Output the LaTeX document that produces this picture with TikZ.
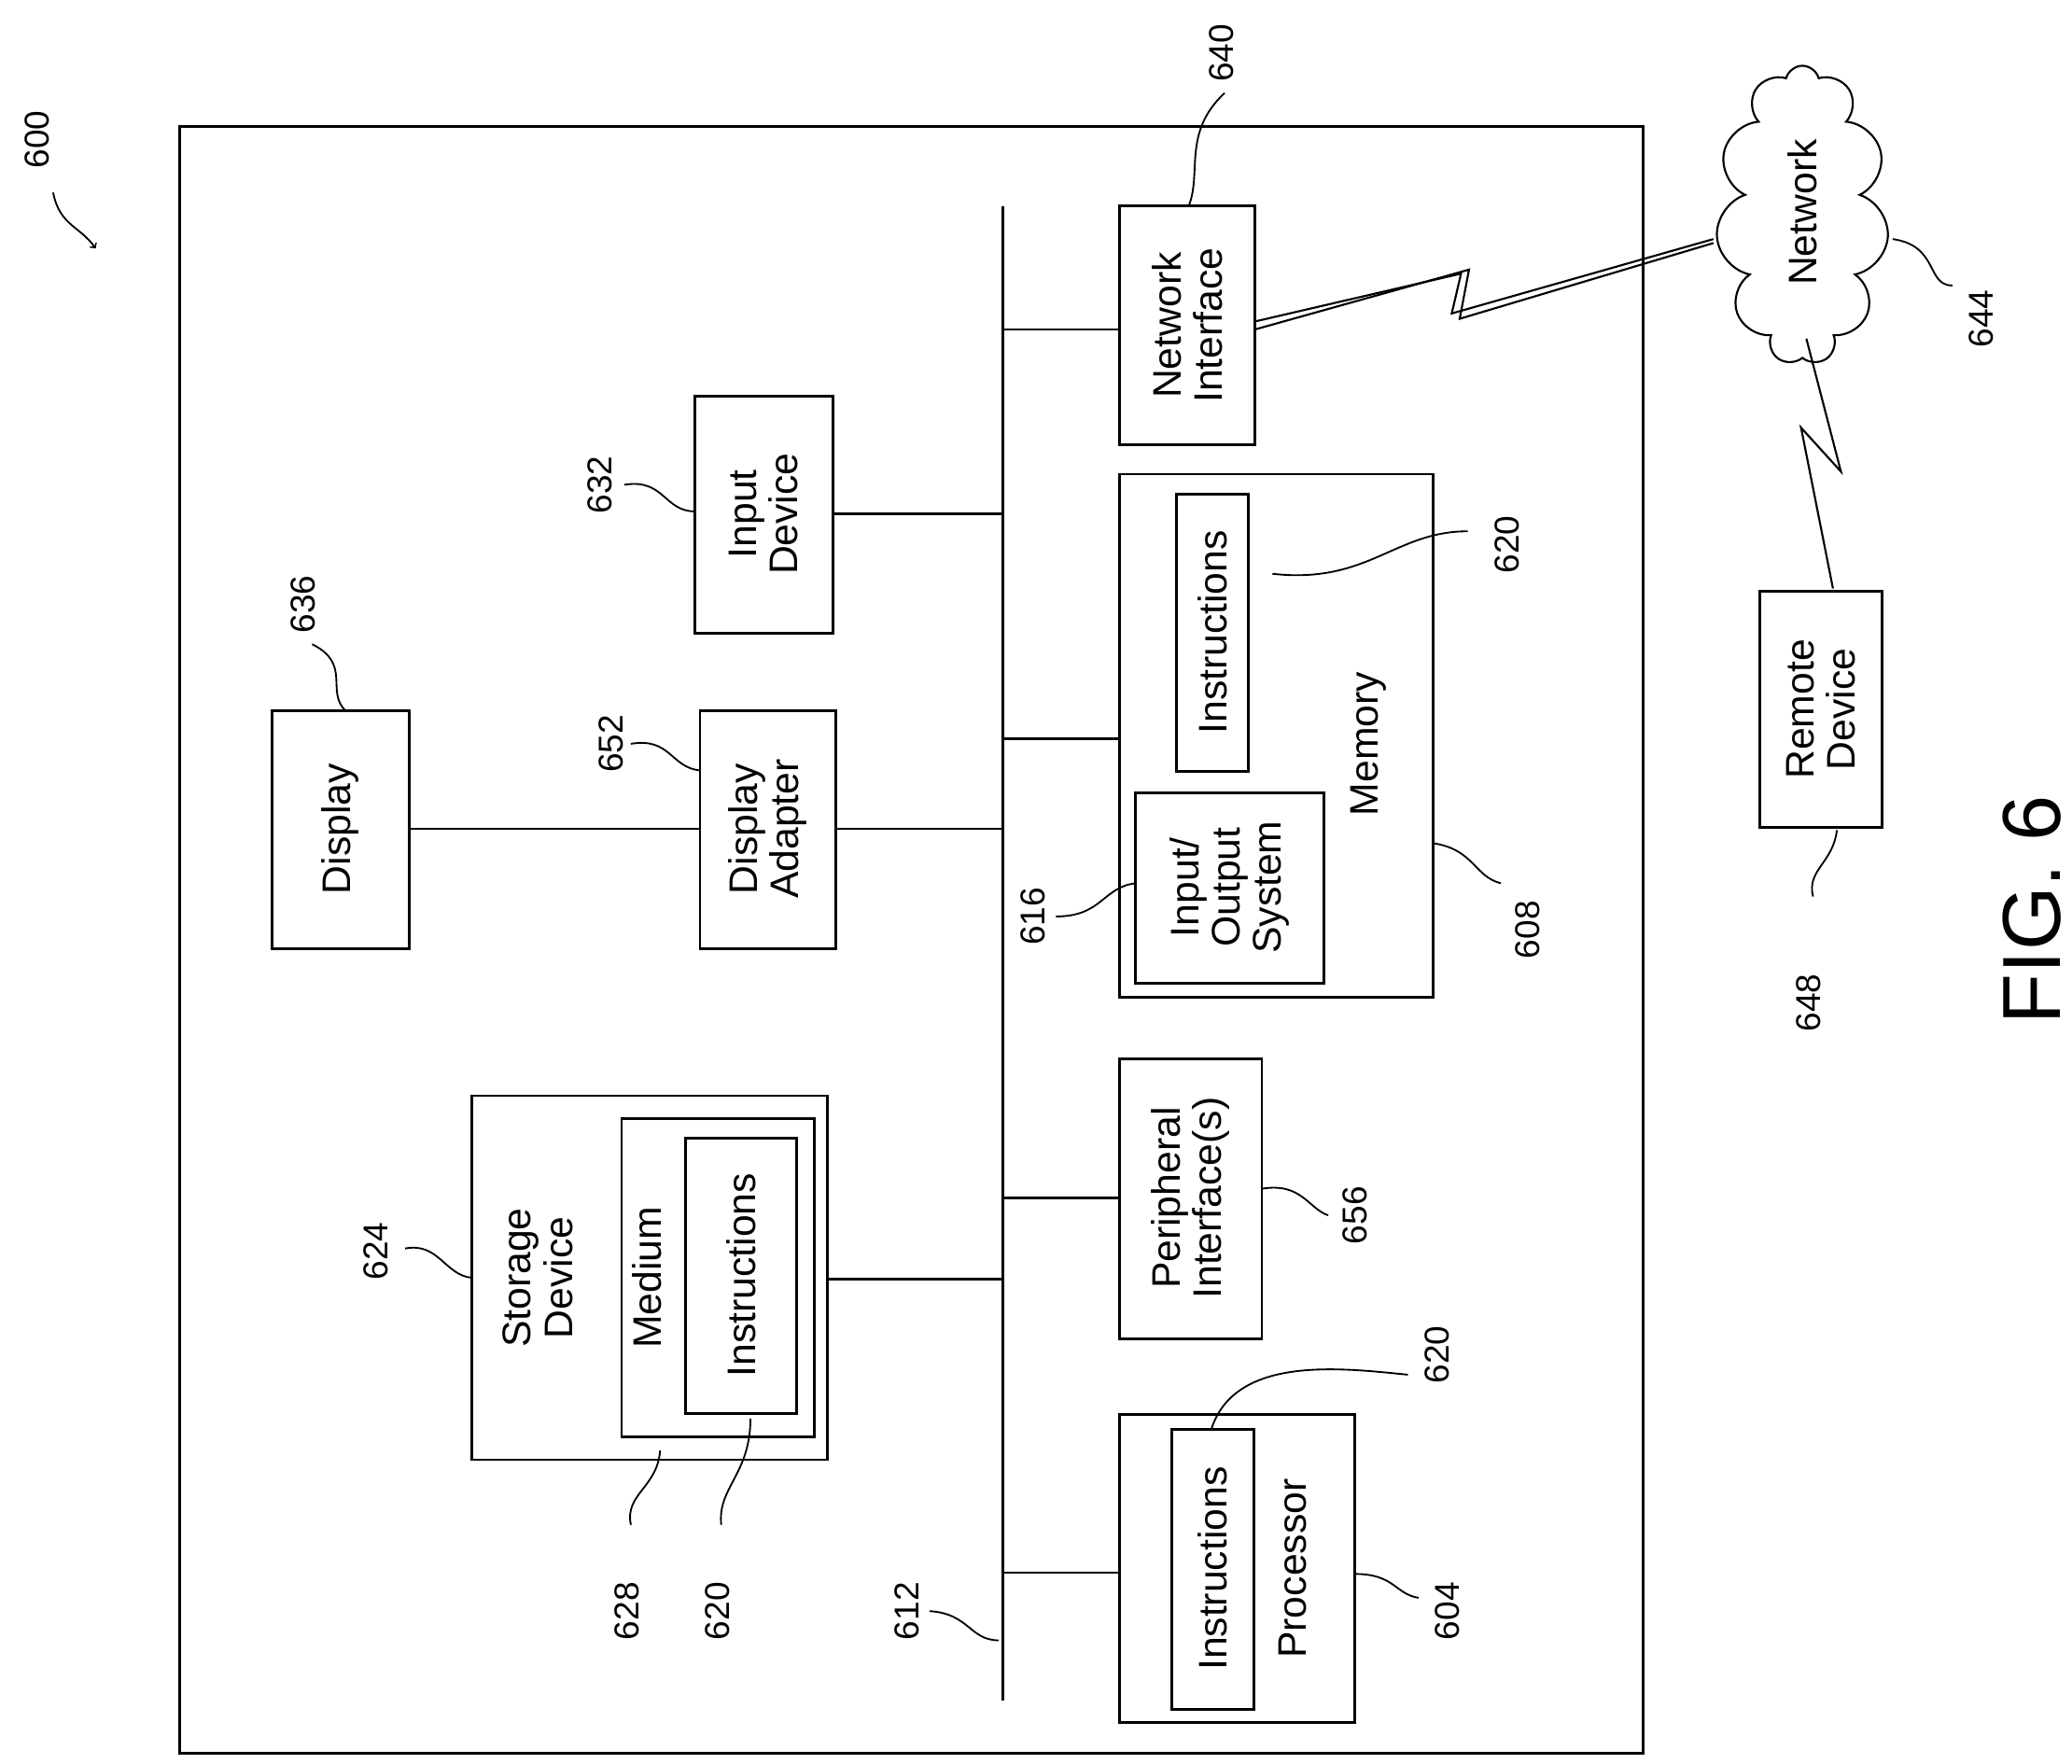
\documentclass[tikz,border=0pt]{standalone}
\usepackage{fontspec}
\setmainfont{Liberation Sans}
\usetikzlibrary{shapes.symbols}
\begin{document}
\begin{tikzpicture}[x=1pt,y=-1pt,line width=2pt,
 txt/.style={rotate=90,align=center,font=\fontsize{30}{31}\selectfont,inner sep=0pt},
 num/.style={rotate=90,font=\fontsize{26}{28}\selectfont,inner sep=1pt},
 lead/.style={line width=1.3pt}]
\useasboundingbox (0,0) rectangle (1560,1328);
\draw (135,95) rectangle (1237,1320);
\coordinate (b1) at (755,155); \coordinate (b2) at (755,1280);
\draw (b1)--(b2);
% boxes
\draw (843,155) rectangle (945,335); \node[txt] (ni) at (894,245) {Network\\Interface};
\draw (523,298) rectangle (627,477); \node[txt] (id) at (575,387) {Input\\Device};
\draw (205,535) rectangle (308,714); \node[txt] (dp) at (256,624) {Display};
\draw (527,535) rectangle (629,714); \node[txt] (da) at (578,624) {Display\\Adapter};
\draw (843,357) rectangle (1079,751); \node[txt] at (1030,560) {Memory};
\draw (886,372) rectangle (940,581); \node[txt] at (913,476) {Instructions};
\draw (855,597) rectangle (997,740); \node[txt] at (926,668) {Input/\\Output\\System};
\draw (843,797) rectangle (950,1008); \node[txt] at (896,902) {Peripheral\\Interface(s)};
\draw (355,825) rectangle (623,1099); \node[txt] at (405,962) {Storage\\Device};
\draw (468,842) rectangle (613,1082); \node[txt] at (487,962) {Medium};
\draw (516,857) rectangle (600,1064); \node[txt] at (558,960) {Instructions};
\draw (843,1065) rectangle (1020,1297); \node[txt] at (973,1181) {Processor};
\draw (882,1076) rectangle (944,1287); \node[txt] at (913,1181) {Instructions};
\draw (1325,445) rectangle (1417,623); \node[txt] at (1371,534) {Remote\\Device};
\node[cloud,draw,cloud puffs=11,aspect=0.55,minimum width=130,minimum height=225,line width=1.5pt] (cl) at (1357,162) {};
\node[txt] at (1357,160) {Network};
% bus links
\draw (755,248)--(843,248);
\draw (627,387)--(755,387);
\draw (308,624)--(527,624); \draw (629,624)--(755,624);
\draw (755,556)--(843,556);
\draw (755,902)--(843,902);
\draw (623,963)--(755,963);
\draw (755,1184)--(843,1184);
% lightning
\draw[line width=1.5pt] (945,248)--(1106,203)--(1099,240)--(1290,183);
\draw[line width=1.5pt] (945,242)--(1100,206)--(1093,236)--(1290,180);
\draw[line width=1.5pt] (1360,255)--(1386,355)--(1356,322)--(1380,443);
% labels
\node[num] at (28,105) {600}; \draw[lead,->] (40,145) .. controls (45,170) and (60,170) .. (72,187);
\node[num] at (920,40) {640}; \draw[lead] (922,70) .. controls (890,100) and (905,130) .. (895,155);
\node[num] at (1492,240) {644}; \draw[lead] (1425,180) .. controls (1460,185) and (1450,215) .. (1470,215);
\node[num] at (452,365) {632}; \draw[lead] (470,365) .. controls (500,360) and (500,385) .. (523,385);
\node[num] at (228,455) {636}; \draw[lead] (235,485) .. controls (265,500) and (245,520) .. (260,535);
\node[num] at (460,560) {652}; \draw[lead] (475,560) .. controls (505,555) and (505,578) .. (527,580);
\node[num] at (1135,410) {620}; \draw[lead] (958,432) .. controls (1030,440) and (1050,400) .. (1105,400);
\node[num] at (778,690) {616}; \draw[lead] (795,690) .. controls (830,690) and (830,668) .. (855,665);
\node[num] at (1150,700) {608}; \draw[lead] (1080,635) .. controls (1110,640) and (1110,660) .. (1130,665);
\node[num] at (1362,755) {648}; \draw[lead] (1383,625) .. controls (1380,650) and (1360,655) .. (1365,675);
\node[num] at (283,942) {624}; \draw[lead] (305,940) .. controls (330,935) and (335,960) .. (355,962);
\node[num] at (1020,915) {656}; \draw[lead] (950,895) .. controls (980,890) and (985,910) .. (1000,915);
\node[num] at (472,1213) {628}; \draw[lead] (497,1092) .. controls (495,1120) and (470,1125) .. (475,1148);
\node[num] at (540,1213) {620}; \draw[lead] (565,1068) .. controls (565,1110) and (540,1120) .. (543,1148);
\node[num] at (683,1213) {612}; \draw[lead] (700,1213) .. controls (730,1215) and (730,1235) .. (752,1235);
\node[num] at (1082,1020) {620}; \draw[lead] (912,1076) .. controls (930,1020) and (1010,1030) .. (1060,1035);
\node[num] at (1090,1213) {604}; \draw[lead] (1020,1185) .. controls (1050,1185) and (1050,1200) .. (1068,1203);
\node[rotate=90,font=\fontsize{62}{64}\selectfont,inner sep=0pt] at (1530,685) {FIG. 6};
\end{tikzpicture}
\end{document}
